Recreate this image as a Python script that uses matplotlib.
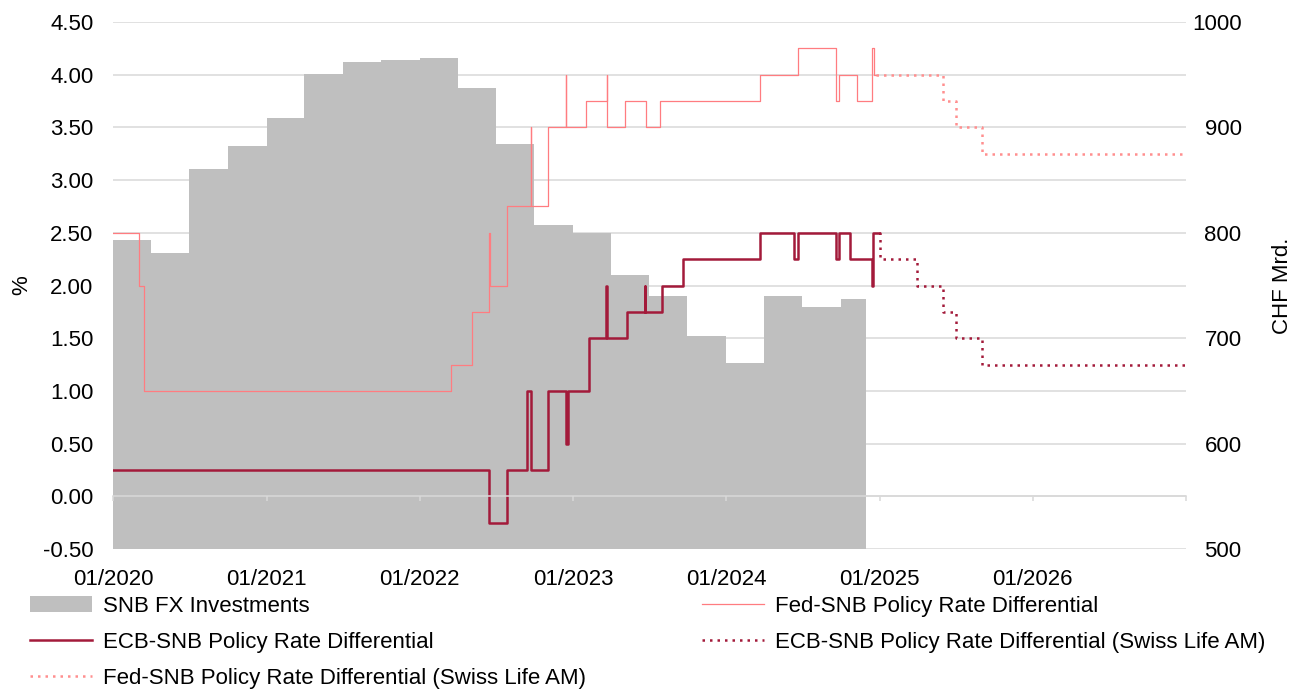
import numpy as np
import pandas as pd
import matplotlib
matplotlib.use("Agg")
from matplotlib import pyplot as plt
from matplotlib.lines import Line2D
from matplotlib.patches import Patch

plt.rcParams['font.family'] = ['Liberation Sans', 'DejaVu Sans']

# SNB FX investments, CHF bn (quarterly steps, last value through Nov 2024)
fx_dates = ["2020-01-01", "2020-04-01", "2020-07-01", "2020-10-01",
            "2021-01-01", "2021-04-01", "2021-07-01", "2021-10-01",
            "2022-01-01", "2022-04-01", "2022-07-01", "2022-10-01",
            "2023-01-01", "2023-04-01", "2023-07-01", "2023-10-01",
            "2024-01-01", "2024-04-01", "2024-07-01", "2024-10-01",
            "2024-11-30"]
fx_vals = [793, 781, 861, 882,
           909, 951, 962, 964,
           966, 937, 884, 807,
           800, 760, 740, 702,
           676, 740, 730, 737,
           737]

# Fed-SNB policy rate differential (%), change points
fed_dates = ["2020-01-01", "2020-03-04", "2020-03-16", "2022-03-17", "2022-05-05",
             "2022-06-16", "2022-06-17", "2022-07-28", "2022-09-22", "2022-09-23",
             "2022-11-03", "2022-12-15", "2022-12-16", "2023-02-02", "2023-03-23",
             "2023-03-24", "2023-05-04", "2023-06-23", "2023-07-27", "2024-03-22",
             "2024-06-21", "2024-09-19", "2024-09-27", "2024-11-08", "2024-12-13",
             "2024-12-19", "2024-12-24"]
fed_vals = [2.50, 2.00, 1.00, 1.25, 1.75,
            2.50, 2.00, 2.75, 3.50, 2.75,
            3.50, 4.00, 3.50, 3.75, 4.00,
            3.50, 3.75, 3.50, 3.75, 4.00,
            4.25, 3.75, 4.00, 3.75, 4.25,
            4.00, 4.00]

# ECB-SNB policy rate differential (%), change points
ecb_dates = ["2020-01-01", "2022-06-16", "2022-07-27", "2022-09-14", "2022-09-22",
             "2022-11-02", "2022-12-15", "2022-12-21", "2023-02-08", "2023-03-22",
             "2023-03-23", "2023-05-10", "2023-06-21", "2023-06-22", "2023-08-02",
             "2023-09-20", "2024-03-22", "2024-06-12", "2024-06-21", "2024-09-18",
             "2024-09-27", "2024-10-23", "2024-12-13", "2024-12-16", "2024-12-31"]
ecb_vals = [0.25, -0.25, 0.25, 1.00, 0.25,
            1.00, 0.50, 1.00, 1.50, 2.00,
            1.50, 1.75, 2.00, 1.75, 2.00,
            2.25, 2.50, 2.25, 2.50, 2.25,
            2.50, 2.25, 2.00, 2.50, 2.50]

# Swiss Life AM forecasts
ecb_fc_dates = ["2024-12-31", "2025-01-01", "2025-04-01", "2025-06-01",
                "2025-07-01", "2025-09-01", "2026-12-31"]
ecb_fc_vals = [2.50, 2.25, 2.00, 1.75, 1.50, 1.25, 1.25]
fed_fc_dates = ["2024-12-24", "2025-06-01", "2025-07-01", "2025-09-01", "2026-12-31"]
fed_fc_vals = [4.00, 3.75, 3.50, 3.25, 3.25]

year_ticks = ["2020", "2021", "2022", "2023", "2024", "2025", "2026", "2027"]

GRAY = "#BFBFBF"
GRID = "#D9D9D9"
FED = "#FF7C80"
FED_FC = "#FF8F8F"
ECB = "#A31A3A"
FS = 16

fig = plt.figure(figsize=(12.93, 6.93), dpi=100)
ax_b = fig.add_axes([113 / 1293, 1 - 549 / 693, 1073 / 1293, 527 / 693])
ax_t = ax_b.twinx()

# bottom layer: FX investments on CHF axis
ax_b.fill_between(pd.to_datetime(fx_dates), fx_vals, 500, step="post",
                  color=GRAY, linewidth=0)
ax_b.set_ylim(500, 1000)
ax_b.set_yticks(np.arange(500, 1001, 100))
ax_b.set_yticks(np.arange(550, 1000, 100), minor=True)
ax_b.set_axisbelow(True)
ax_b.grid(axis="y", which="both", color=GRID, linewidth=1.1)
ax_b.yaxis.tick_right()
ax_b.yaxis.set_label_position("right")
ax_b.tick_params(axis="y", which="both", length=0, labelsize=FS, pad=40)
for t in ax_b.get_yticklabels():
    t.set_horizontalalignment("right")
ax_b.tick_params(axis="x", length=0, labelbottom=False)
ax_b.set_ylabel("CHF Mrd.", fontsize=FS)
ax_b.yaxis.set_label_coords(1.08, 0.5)
for s in ax_b.spines.values():
    s.set_visible(False)

# top layer: rate differentials on % axis
ax_t.plot(pd.to_datetime(fed_dates), fed_vals, drawstyle="steps-post",
          color=FED, linewidth=0.9)
ax_t.plot(pd.to_datetime(ecb_dates), ecb_vals, drawstyle="steps-post",
          color=ECB, linewidth=1.8)
ax_t.plot(pd.to_datetime(ecb_fc_dates), ecb_fc_vals, drawstyle="steps-post",
          color=ECB, linewidth=1.8, linestyle=(0, (1, 2)))
ax_t.plot(pd.to_datetime(fed_fc_dates), fed_fc_vals, drawstyle="steps-post",
          color=FED_FC, linewidth=1.8, linestyle=(0, (1, 2)))
ax_t.set_ylim(-0.5, 4.5)
ax_t.set_yticks(np.arange(-0.5, 4.51, 0.5))
ax_t.yaxis.set_major_formatter(matplotlib.ticker.FormatStrFormatter("%.2f"))
ax_t.yaxis.tick_left()
ax_t.yaxis.set_label_position("left")
ax_t.tick_params(axis="y", length=0, labelsize=FS, pad=14)
ax_t.set_ylabel("%", fontsize=FS)
ax_t.yaxis.set_label_coords(-0.075, 0.5)

ax_t.xaxis.set_visible(True)
ax_t.set_xlim(pd.Timestamp("2020-01-01"), pd.Timestamp("2027-01-01"))
ax_t.set_xticks(pd.to_datetime([y + "-01-01" for y in year_ticks]))
ax_t.set_xticklabels(["01/" + y for y in year_ticks[:-1]] + [""])
ax_t.tick_params(axis="x", direction="out", length=3.6, width=1.1, color=GRID,
                 labelsize=FS, pad=49)
for k in ["top", "left", "right"]:
    ax_t.spines[k].set_visible(False)
ax_t.spines["bottom"].set_position(("data", 0))
ax_t.spines["bottom"].set_color(GRID)
ax_t.spines["bottom"].set_linewidth(1.1)

handles = [
    Patch(facecolor=GRAY, edgecolor="none"),
    Line2D([], [], color=ECB, linewidth=1.8),
    Line2D([], [], color=FED_FC, linewidth=1.8, linestyle=(0, (1, 2))),
    Line2D([], [], color=FED, linewidth=0.9),
    Line2D([], [], color=ECB, linewidth=1.8, linestyle=(0, (1, 2))),
]
labels = [
    "SNB FX Investments",
    "ECB-SNB Policy Rate Differential",
    "Fed-SNB Policy Rate Differential (Swiss Life AM)",
    "Fed-SNB Policy Rate Differential",
    "ECB-SNB Policy Rate Differential (Swiss Life AM)",
]
fig.legend(handles, labels, ncol=2, loc="upper left",
           bbox_to_anchor=(30 / 1293, 1 - 596 / 693), frameon=False,
           fontsize=FS, handlelength=2.8, handletextpad=0.5,
           columnspacing=5.2, labelspacing=0.68, borderpad=0, borderaxespad=0)

fig.savefig("out.png", dpi=100)
